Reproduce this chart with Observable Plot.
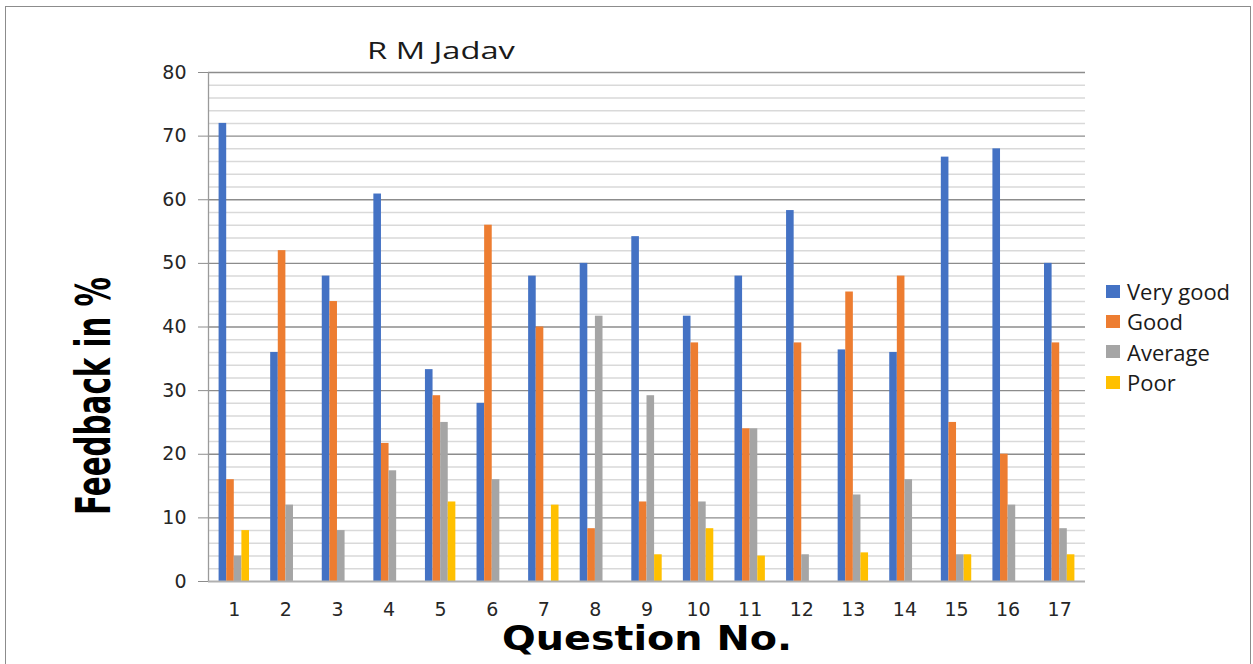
<!DOCTYPE html>
<html>
<head>
<meta charset="utf-8">
<script src="https://cdn.jsdelivr.net/npm/d3@7"></script>
<script src="https://cdn.jsdelivr.net/npm/@observablehq/plot@0.6"></script>
<style>
  html, body { margin: 0; padding: 0; background: #fff; }
  #wrap { position: relative; width: 1253px; height: 664px; overflow: hidden; }
  #border { position: absolute; left: 5px; top: 6px; width: 1244px; height: 680px; border: 1px solid #8c8c8c; pointer-events: none; }
  #title { position: absolute; left: 341px; width: 200px; top: 33px; line-height: 24px; text-align: center; font: 24px "Open Sans", sans-serif; color: #1a1a1a; transform: scaleX(1.36); transform-origin: center; }
  #legend { position: absolute; left: 1106px; top: 276px; font: 22px "Open Sans", sans-serif; color: #1a1a1a; }
  .item { display: flex; align-items: center; height: 30.4px; line-height: 30.4px; }
  .sw { width: 14px; height: 13px; margin-right: 7px; }
  svg { position: absolute; left: 0; top: 0; }
</style>
</head>
<body>
<div id="wrap">
  <div id="title">R M Jadav</div>
  <div id="legend"></div>
  <div id="border"></div>
</div>
<script>
const questions = ["1","2","3","4","5","6","7","8","9","10","11","12","13","14","15","16","17"];
const seriesNames = ["Very good", "Good", "Average", "Poor"];
const seriesColors = ["#4472C4", "#ED7D31", "#A5A5A5", "#FFC000"];
const veryGood = [72, 36, 48, 60.9, 33.3, 28, 48, 50, 54.2, 41.7, 48, 58.3, 36.4, 36, 66.7, 68, 50];
const good     = [16, 52, 44, 21.7, 29.2, 56, 40, 8.3, 12.5, 37.5, 24, 37.5, 45.5, 48, 25, 20, 37.5];
const average  = [4, 12, 8, 17.4, 25, 16, 0, 41.7, 29.2, 12.5, 24, 4.2, 13.6, 16, 4.2, 12, 8.3];
const poor     = [8, 0, 0, 0, 12.5, 0, 12, 0, 4.2, 8.3, 4, 0, 4.5, 0, 4.2, 0, 4.2];
const yMajorTicks = [0, 10, 20, 30, 40, 50, 60, 70, 80];
const yMinorTicks = [2, 4, 6, 8, 12, 14, 16, 18, 22, 24, 26, 28, 32, 34, 36, 38, 42, 44, 46, 48, 52, 54, 56, 58, 62, 64, 66, 68, 72, 74, 76, 78];
const yLabel = "Feedback in %";
const xLabel = "Question No.";

const allSeries = [veryGood, good, average, poor];

const W = 1253, H = 664;
const mL = 208, mR = 168, mT = 72, mB = 83;
const bandW = (W - mL - mR) / questions.length;
const barW = 7.6;
const c = (bandW - barW) / 2;
const offsets = [-1.5, -0.5, 0.5, 1.5].map(k => k * barW);

const barMarks = allSeries.map((vals, i) => {
  const rows = questions.map((q, j) => ({q, v: vals[j]})).filter(d => d.v > 0);
  return Plot.barY(rows, {
    x: "q", y: "v", fill: seriesColors[i],
    insetLeft: c + offsets[i], insetRight: c - offsets[i]
  });
});

const tickFont = "'DejaVu Sans', sans-serif";

const chart = Plot.plot({
  width: W, height: H,
  marginLeft: mL, marginRight: mR, marginTop: mT, marginBottom: mB,
  style: {fontFamily: tickFont, background: "transparent"},
  x: {domain: questions, padding: 0, round: false, label: null},
  y: {domain: [0, 80], label: null},
  marks: [
    Plot.ruleY(yMinorTicks, {stroke: "#d9d9d9", strokeWidth: 1.5}),
    Plot.ruleY(yMajorTicks.filter(d => d > 0), {stroke: "#8c8c8c", strokeWidth: 1.3}),
    Plot.ruleX([questions[0]], {stroke: "#9a9a9a", strokeWidth: 1.3, dx: -bandW / 2, y1: 0, y2: 80}),
    ...barMarks,
    Plot.ruleY([0], {stroke: "#b0b0b0", strokeWidth: 2}),
    Plot.axisY({ticks: yMajorTicks, tickSize: 10, tickPadding: 12, stroke: "#8c8c8c", fontSize: 19, fill: "#262626", tickFormat: d => d, label: null, style: {letterSpacing: "1.5px"}}),
    Plot.axisX({tickSize: 0, tickPadding: 21, fontSize: 19, fill: "#262626", label: null, style: {letterSpacing: "1.5px"}}),
    Plot.text([yLabel], {frameAnchor: "left", textAnchor: "middle", lineAnchor: "middle", dx: -114, dy: 69, rotate: -90, fontSize: 48, fontWeight: "bold", fontFamily: "'DejaVu Sans', sans-serif", fill: "#000"}),
    Plot.text([xLabel], {frameAnchor: "bottom", textAnchor: "middle", lineAnchor: "middle", dy: 58, fontSize: 34, fontWeight: "bold", fontFamily: "'DejaVu Sans', sans-serif", fill: "#000"})
  ]
});
document.getElementById("wrap").prepend(chart);

// stretch/condense the axis titles to the reference's text lengths
const svgText = d3.select(chart).selectAll("text");
svgText.filter(function() { return this.textContent === yLabel; })
  .attr("textLength", 238).attr("lengthAdjust", "spacingAndGlyphs");
svgText.filter(function() { return this.textContent === xLabel; })
  .attr("textLength", 290).attr("lengthAdjust", "spacingAndGlyphs");

const legend = document.getElementById("legend");
seriesNames.forEach((name, i) => {
  const item = document.createElement("div");
  item.className = "item";
  const sw = document.createElement("div");
  sw.className = "sw";
  sw.style.background = seriesColors[i];
  const t = document.createElement("span");
  t.textContent = name;
  item.appendChild(sw); item.appendChild(t);
  legend.appendChild(item);
});
</script>
</body>
</html>
